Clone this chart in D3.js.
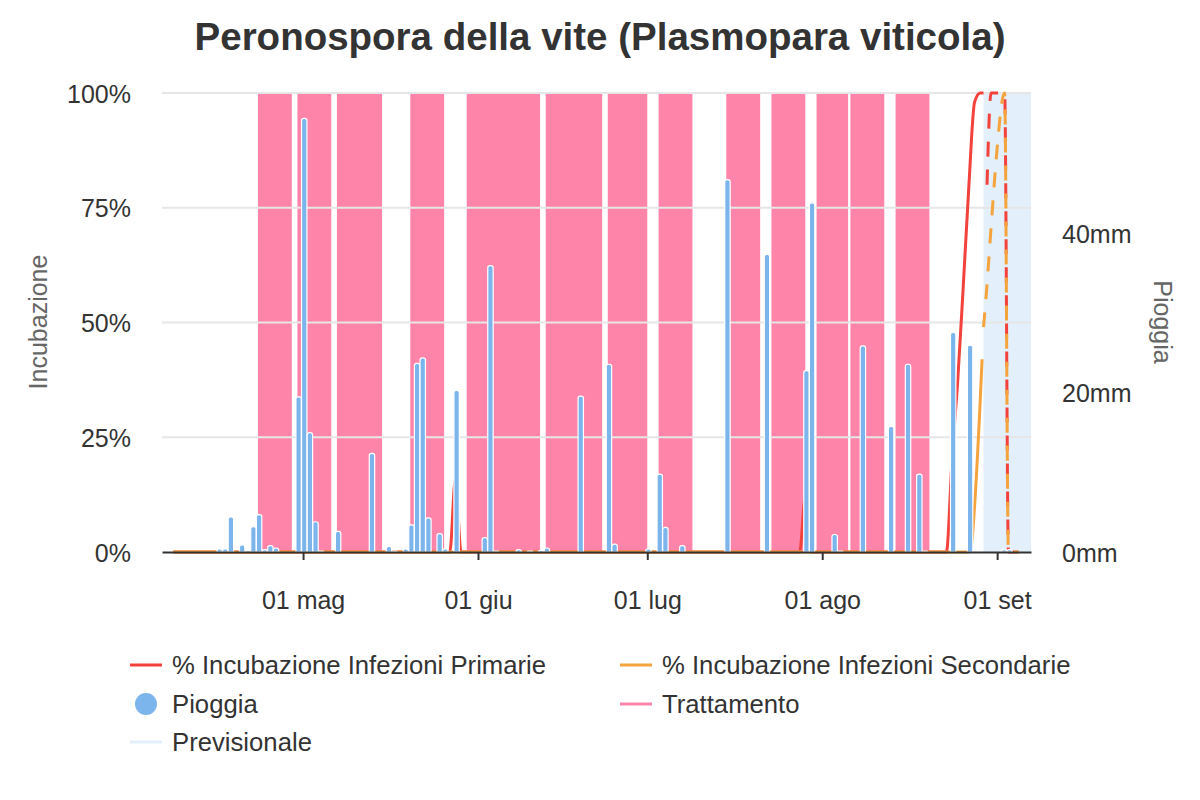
<!DOCTYPE html>
<html>
<head>
<meta charset="utf-8">
<script src="https://cdn.jsdelivr.net/npm/d3@7/dist/d3.min.js"></script>
<style>
  body { margin: 0; background: #fff; }
  svg { display: block; font-family: "Liberation Sans", Arial, sans-serif; }
</style>
</head>
<body>
<svg id="chart" width="1200" height="800"></svg>
<script>
"use strict";

// --- data ----------------------------------------------------------------

// daily rain (mm)
var rain_dates = [
  "2023-04-16", "2023-04-17", "2023-04-18", "2023-04-20", "2023-04-21",
  "2023-04-22", "2023-04-23", "2023-04-24", "2023-04-25", "2023-04-26",
  "2023-04-30", "2023-05-01", "2023-05-02", "2023-05-03", "2023-05-04",
  "2023-05-07", "2023-05-13", "2023-05-16", "2023-05-17", "2023-05-19",
  "2023-05-20", "2023-05-21", "2023-05-22", "2023-05-23", "2023-05-25",
  "2023-05-26", "2023-05-28", "2023-06-02", "2023-06-03", "2023-06-04",
  "2023-06-08", "2023-06-10", "2023-06-12", "2023-06-13", "2023-06-19",
  "2023-06-24", "2023-06-25", "2023-07-01", "2023-07-03", "2023-07-04",
  "2023-07-07", "2023-07-15", "2023-07-22", "2023-07-29", "2023-07-30",
  "2023-08-03", "2023-08-04", "2023-08-08", "2023-08-13", "2023-08-16",
  "2023-08-18", "2023-08-19", "2023-08-24", "2023-08-27", "2023-09-02",
  "2023-09-03"
];
var rain_mm = [
  0.4, 0.4, 4.4, 0.9, 0.2,
  3.2, 4.7, 0.3, 0.8, 0.5,
  19.5, 54.5, 15.0, 3.8, 0.1,
  2.6, 12.4, 0.7, 0.1, 0.4,
  3.4, 23.7, 24.4, 4.3, 2.3,
  0.4, 20.3, 1.8, 36.0, 0.1,
  0.3, 0.1, 0.2, 0.5, 19.6,
  23.6, 1.0, 0.4, 9.8, 3.1,
  0.8, 46.8, 37.4, 22.8, 43.9,
  2.2, 0.1, 25.9, 15.8, 23.6,
  9.8, 0.1, 27.6, 26.0, 0.3,
  0.3
];

// treatment coverage periods
var treat_start = [
  "2023-04-23", "2023-04-30", "2023-05-07", "2023-05-20", "2023-05-30",
  "2023-06-13", "2023-06-24", "2023-07-03", "2023-07-15", "2023-07-23",
  "2023-07-31", "2023-08-06", "2023-08-14"
];
var treat_end = [
  "2023-04-29", "2023-05-06", "2023-05-15", "2023-05-26", "2023-06-12",
  "2023-06-23", "2023-07-01", "2023-07-09", "2023-07-21", "2023-07-29",
  "2023-08-05T14:00", "2023-08-12", "2023-08-20"
];

// % incubation, primary infections (observed)
var prim_dates = [
  "2023-04-08", "2023-05-27", "2023-05-28", "2023-05-29", "2023-07-28",
  "2023-07-29", "2023-07-30", "2023-08-23", "2023-08-24", "2023-08-25",
  "2023-08-26", "2023-08-27", "2023-08-28", "2023-08-29", "2023-08-29T14:00"
];
var prim_values = [0, 0, 16, 0, 0, 12, 0, 0, 20, 37, 58, 80, 98, 100, 100];

// % incubation, primary infections (forecast)
var prim_fc_dates = [
  "2023-08-30T05:00", "2023-08-30T22:00", "2023-09-02T08:00",
  "2023-09-03", "2023-09-04T19:00"
];
var prim_fc_values = [80, 100, 100, 0, 0];

// % incubation, secondary infections (observed)
var sec_dates = [
  "2023-04-08", "2023-08-27", "2023-08-27T12:00", "2023-08-28",
  "2023-08-29", "2023-08-29T08:00"
];
var sec_values = [0, 0, 2, 10, 33, 42];

// % incubation, secondary infections (forecast)
var sec_fc_dates = [
  "2023-08-29T14:00", "2023-08-30", "2023-08-31", "2023-09-01",
  "2023-09-02", "2023-09-02T08:00", "2023-09-03", "2023-09-04T19:00"
];
var sec_fc_values = [49, 55, 72, 88, 99, 100, 0, 0];

var forecast_span = ["2023-08-29T14:00", "2023-09-07"];
var x_domain = ["2023-04-06", "2023-09-07"];

var x_tick_dates = ["2023-05-01", "2023-06-01", "2023-07-01", "2023-08-01", "2023-09-01"];
var x_tick_labels = ["01 mag", "01 giu", "01 lug", "01 ago", "01 set"];
var left_ticks = [0, 25, 50, 75, 100];
var right_ticks = [0, 20, 40];
var right_max = 57.7;

var legend_labels = [
  "% Incubazione Infezioni Primarie", "% Incubazione Infezioni Secondarie",
  "Pioggia", "Trattamento", "Previsionale"
];

// --- styles ---------------------------------------------------------------

const colors = {
  primary: '#f3413b',
  secondary: '#f5a33c',
  rain: '#7cb5ec',
  treat: '#ff84aa',
  forecast: '#e3f0fb',
  grid: '#e6e6e6',
  text: '#333333',
  title_axis: '#666666'
};
const legend_kind = ['line', 'line', 'circle', 'line', 'line'];
const legend_color = [colors.primary, colors.secondary, colors.rain, colors.treat, colors.forecast];

const plot = {x0: 162, x1: 1031, y0: 93, y1: 552};

function parse_date(s) {
  if (s.length > 10) return d3.utcParse('%Y-%m-%dT%H:%M')(s);
  return d3.utcParse('%Y-%m-%d')(s);
}

function zip(dates, values) {
  return dates.map((d, i) => ({date: parse_date(d), value: values[i]}));
}

// column with rounded top
function bar_path(x0, y0, w, h, r) {
  r = Math.min(r, h, w / 2);
  return 'M' + x0 + ',' + (y0 + h) +
    'V' + (y0 + r) +
    'Q' + x0 + ',' + y0 + ' ' + (x0 + r) + ',' + y0 +
    'H' + (x0 + w - r) +
    'Q' + (x0 + w) + ',' + y0 + ' ' + (x0 + w) + ',' + (y0 + r) +
    'V' + (y0 + h) + 'Z';
}

function draw() {
  var svg = d3.select('#chart');

  var x = d3.scaleUtc()
    .domain(x_domain.map(parse_date))
    .range([plot.x0, plot.x1]);
  var y_left = d3.scaleLinear().domain([0, 100]).range([plot.y1, plot.y0]);
  var y_right = d3.scaleLinear().domain([0, right_max]).range([plot.y1, plot.y0]);

  // title
  svg.append('text')
    .attr('x', 600)
    .attr('y', 50)
    .attr('text-anchor', 'middle')
    .attr('font-size', 38.5)
    .attr('font-weight', 'bold')
    .attr('fill', colors.text)
    .text('Peronospora della vite (Plasmopara viticola)');

  // treatment bands
  var treats = treat_start.map((s, i) => ({start: parse_date(s), end: parse_date(treat_end[i])}));
  svg.append('g').selectAll('rect')
    .data(treats).enter()
    .append('rect')
      .attr('x', d => x(d.start))
      .attr('y', plot.y0)
      .attr('width', d => x(d.end) - x(d.start))
      .attr('height', plot.y1 - plot.y0)
      .attr('fill', colors.treat);

  // forecast band
  var fs = parse_date(forecast_span[0]), fe = parse_date(forecast_span[1]);
  svg.append('rect')
    .attr('x', x(fs))
    .attr('y', plot.y0)
    .attr('width', x(fe) - x(fs))
    .attr('height', plot.y1 - plot.y0)
    .attr('fill', colors.forecast);

  // grid lines (left axis)
  svg.append('g').selectAll('line')
    .data(left_ticks.filter(d => d > 0)).enter()
    .append('line')
      .attr('x1', plot.x0)
      .attr('x2', plot.x1)
      .attr('y1', d => y_left(d))
      .attr('y2', d => y_left(d))
      .attr('stroke', colors.grid)
      .attr('stroke-width', 2);

  // incubation lines
  var line = d3.line()
    .x(d => x(d.date))
    .y(d => y_left(d.value))
    .curve(d3.curveMonotoneX);

  var series = [
    {data: zip(prim_dates, prim_values), color: colors.primary, dash: null},
    {data: zip(sec_dates, sec_values), color: colors.secondary, dash: null},
    {data: zip(prim_fc_dates, prim_fc_values), color: colors.primary, dash: '15,13'},
    {data: zip(sec_fc_dates, sec_fc_values), color: colors.secondary, dash: '15,13'}
  ];
  var lines_g = svg.append('g');
  series.forEach(s => {
    lines_g.append('path')
      .attr('d', line(s.data))
      .attr('fill', 'none')
      .attr('stroke', s.color)
      .attr('stroke-width', 3)
      .attr('stroke-linejoin', 'round')
      .attr('stroke-dasharray', s.dash);
  });

  // rain columns (right axis); the values sit a few hours after midnight
  var rain = zip(rain_dates, rain_mm);
  var bar_w = 5.4;
  svg.append('g').selectAll('path')
    .data(rain).enter()
    .append('path')
      .attr('d', d => {
        var cx = x(d3.utcHour.offset(d.date, 5));
        var top = y_right(d.value);
        return bar_path(cx - bar_w / 2, top, bar_w, plot.y1 - top, 2.2);
      })
      .attr('fill', colors.rain)
      .attr('stroke', '#fff')
      .attr('stroke-width', 1.2);

  // x axis
  var axis_x = svg.append('g')
    .attr('transform', 'translate(0,' + plot.y1 + ')')
    .call(d3.axisBottom(x)
      .tickValues(x_tick_dates.map(parse_date))
      .tickFormat((d, i) => x_tick_labels[i])
      .tickSize(8)
      .tickSizeOuter(0)
      .tickPadding(31));
  axis_x.select('.domain').attr('stroke', colors.text).attr('stroke-width', 2);
  axis_x.selectAll('.tick line').attr('stroke', colors.text).attr('stroke-width', 2);
  axis_x.selectAll('text')
    .attr('font-family', '"Liberation Sans", Arial, sans-serif')
    .attr('font-size', 25)
    .attr('fill', colors.text);

  // left axis
  var axis_l = svg.append('g')
    .attr('transform', 'translate(131,0)')
    .call(d3.axisLeft(y_left)
      .tickValues(left_ticks)
      .tickFormat(d => d + '%')
      .tickSize(0)
      .tickPadding(0));
  axis_l.select('.domain').remove();
  axis_l.selectAll('text')
    .attr('dy', '0.36em')
    .attr('font-family', '"Liberation Sans", Arial, sans-serif')
    .attr('font-size', 25)
    .attr('fill', colors.text);

  // right axis
  var axis_r = svg.append('g')
    .attr('transform', 'translate(1062,0)')
    .call(d3.axisRight(y_right)
      .tickValues(right_ticks)
      .tickFormat(d => d + 'mm')
      .tickSize(0)
      .tickPadding(0));
  axis_r.select('.domain').remove();
  axis_r.selectAll('text')
    .attr('dy', '0.36em')
    .attr('font-family', '"Liberation Sans", Arial, sans-serif')
    .attr('font-size', 25)
    .attr('fill', colors.text);

  // axis titles
  svg.append('text')
    .attr('transform', 'translate(47,322) rotate(-90)')
    .attr('text-anchor', 'middle')
    .attr('font-size', 25)
    .attr('fill', colors.title_axis)
    .text('Incubazione');
  svg.append('text')
    .attr('transform', 'translate(1154,322) rotate(90)')
    .attr('text-anchor', 'middle')
    .attr('font-size', 25)
    .attr('fill', colors.title_axis)
    .text('Pioggia');

  // legend, two columns
  var legend = svg.append('g');
  legend_labels.forEach((label, i) => {
    var lx = i % 2 === 0 ? 130 : 620;
    var ly = [665, 704, 742][Math.floor(i / 2)];
    var item = legend.append('g').attr('transform', 'translate(' + lx + ',' + ly + ')');
    if (legend_kind[i] === 'circle') {
      item.append('circle')
        .attr('cx', 16)
        .attr('cy', 0)
        .attr('r', 11)
        .attr('fill', legend_color[i]);
    } else {
      item.append('line')
        .attr('x1', 0)
        .attr('x2', 32)
        .attr('y1', 0)
        .attr('y2', 0)
        .attr('stroke', legend_color[i])
        .attr('stroke-width', 3);
    }
    item.append('text')
      .attr('x', 42)
      .attr('y', 8.5)
      .attr('font-size', 25.7)
      .attr('fill', colors.text)
      .text(label);
  });
}

draw();
</script>
</body>
</html>
